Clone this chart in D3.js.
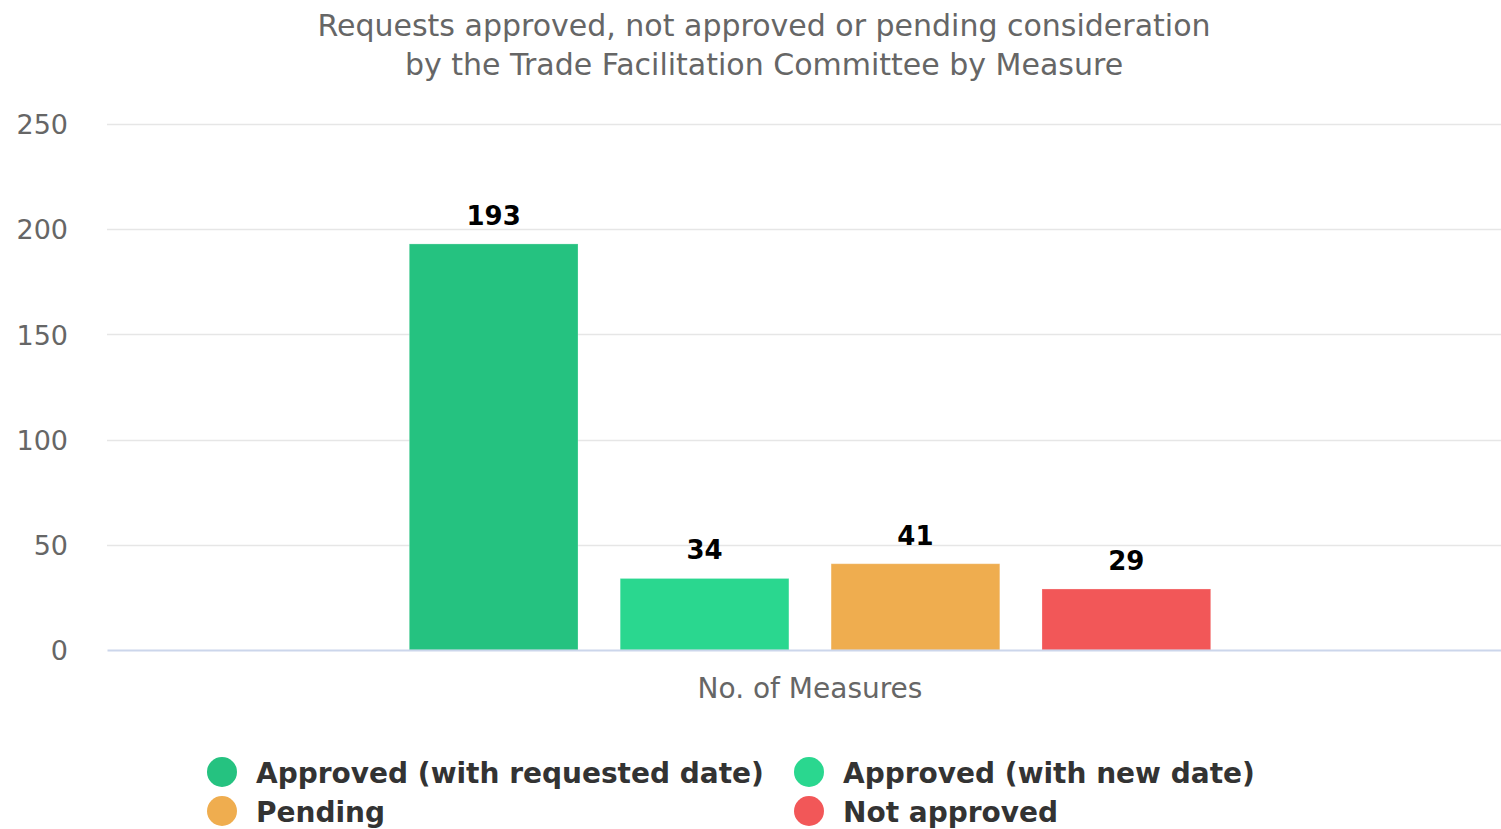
<!DOCTYPE html>
<html>
<head>
  <meta charset="utf-8">
  <script src="https://cdnjs.cloudflare.com/ajax/libs/d3/7.8.5/d3.min.js"></script>
  <title>Requests by Measure</title>
  <style>
    body { margin: 0; background: #fff; }
    text { font-family: "DejaVu Sans", sans-serif; }
  </style>
</head>
<body>
<script>
// chart values
const categories = ["No. of Measures"];
const seriesNames = ["Approved (with requested date)", "Approved (with new date)", "Pending", "Not approved"];
const seriesValues = [193, 34, 41, 29];
const seriesColors = ["#25c280", "#2ad78f", "#efad4f", "#f25758"];
const yTicks = [0, 50, 100, 150, 200, 250];
const titleLines = ["Requests approved, not approved or pending consideration",
                    "by the Trade Facilitation Committee by Measure"];

const W = 1501, H = 829;
const plot = { left: 107, right: 1513, top: 124, bottom: 650 };

const svg = d3.select("body").append("svg")
    .attr("width", W)
    .attr("height", H);

const x0 = d3.scaleBand()
    .domain(categories)
    .range([plot.left, plot.right]);

// highcharts style group padding 0.2, point padding 0.1
const x1 = d3.scaleBand()
    .domain(seriesNames)
    .range([x0.bandwidth() * 0.2, x0.bandwidth() * 0.8])
    .paddingInner(0.2)
    .paddingOuter(0.1);

const y = d3.scaleLinear()
    .domain([0, 250])
    .range([plot.bottom, plot.top]);

// title
svg.append("g").selectAll("text")
  .data(titleLines)
  .enter().append("text")
    .attr("x", 764)
    .attr("y", (d, i) => 36 + i * 39)
    .attr("text-anchor", "middle")
    .style("font-size", "30px")
    .style("fill", "#666")
    .text(d => d);

// grid lines
svg.append("g").selectAll("line")
  .data(yTicks.filter(t => t > 0))
  .enter().append("line")
    .attr("x1", plot.left)
    .attr("x2", plot.right)
    .attr("y1", d => Math.round(y(d)) + 0.5)
    .attr("y2", d => Math.round(y(d)) + 0.5)
    .style("stroke", "#e6e6e6")
    .style("stroke-width", 1.5);

// y axis labels (no axis line)
const yAxis = d3.axisLeft(y)
    .tickValues(yTicks)
    .tickSize(0)
    .tickPadding(0);

const yg = svg.append("g")
    .attr("transform", "translate(68,0)")
    .call(yAxis);
yg.select(".domain").remove();
yg.selectAll("text")
    .attr("dy", "0.36em")
    .style("font-family", "DejaVu Sans, sans-serif")
    .style("font-size", "27px")
    .style("fill", "#666");

// bars
const group = svg.append("g").selectAll("g")
  .data(categories)
  .enter().append("g")
    .attr("transform", d => "translate(" + x0(d) + ",0)");

group.selectAll("rect")
  .data(seriesNames.map((s, i) => ({ name: s, value: seriesValues[i], color: seriesColors[i] })))
  .enter().append("rect")
    .attr("x", d => x1(d.name))
    .attr("y", d => y(d.value))
    .attr("width", x1.bandwidth())
    .attr("height", d => y(0) - y(d.value))
    .style("fill", d => d.color)
    .style("stroke", "#fff")
    .style("stroke-opacity", 0.25)
    .style("stroke-width", 1);

// data labels
group.selectAll("text.label")
  .data(seriesNames.map((s, i) => ({ name: s, value: seriesValues[i] })))
  .enter().append("text")
    .attr("class", "label")
    .attr("x", d => x1(d.name) + x1.bandwidth() / 2)
    .attr("y", d => y(d.value) - 19)
    .attr("text-anchor", "middle")
    .style("font-size", "26px")
    .style("font-weight", "bold")
    .style("fill", "#000")
    .text(d => d.value);

// x axis line and category label
const xAxis = d3.axisBottom(x0).tickSize(0).tickPadding(0);
const xg = svg.append("g")
    .attr("transform", "translate(0," + plot.bottom + ")")
    .call(xAxis);
xg.select(".domain")
    .style("stroke", "#ccd6eb")
    .style("stroke-width", 2);
xg.selectAll("text")
    .attr("dy", 0)
    .attr("y", 48)
    .style("font-family", "DejaVu Sans, sans-serif")
    .style("font-size", "28px")
    .style("fill", "#666");

// legend
const legendPos = [[222, 772], [809, 772], [222, 811], [809, 811]];
const legend = svg.append("g").selectAll("g")
  .data(seriesNames)
  .enter().append("g")
    .attr("transform", (d, i) => "translate(" + legendPos[i][0] + "," + legendPos[i][1] + ")");

legend.append("circle")
    .attr("r", 15)
    .style("fill", (d, i) => seriesColors[i]);

legend.append("text")
    .attr("x", 34)
    .attr("y", 11)
    .style("font-size", "28px")
    .style("font-weight", "bold")
    .style("fill", "#333")
    .text(d => d);
</script>
</body>
</html>
